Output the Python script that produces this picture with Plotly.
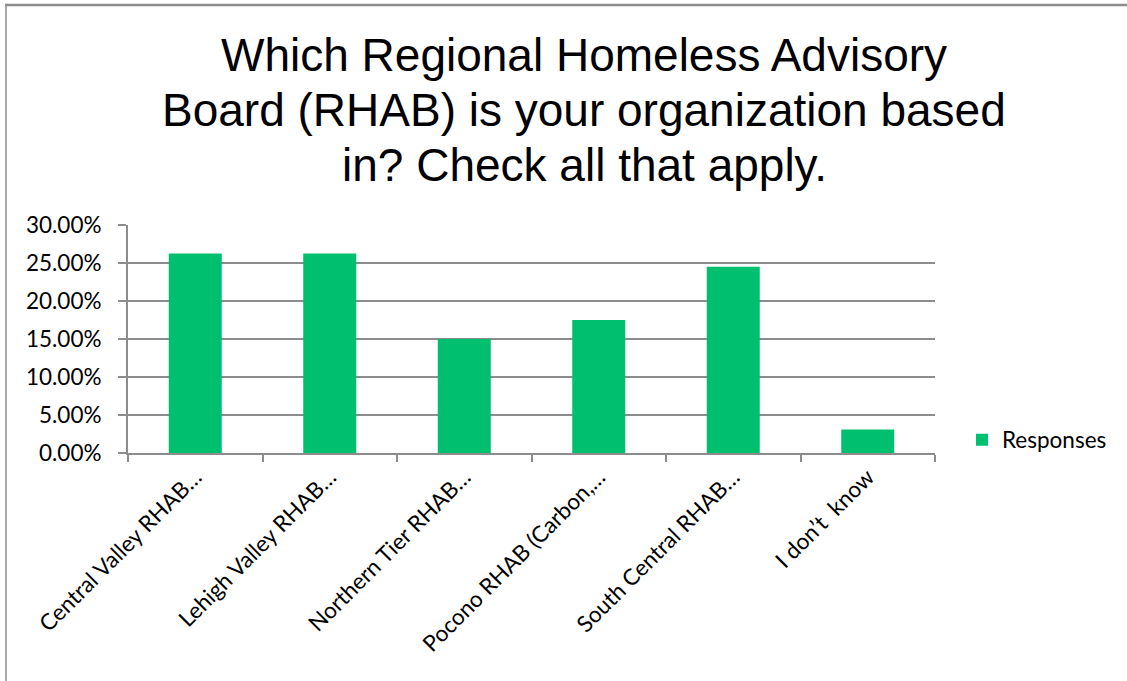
import plotly.graph_objects as go

# Survey answers and the share of respondents choosing each
categories = [
    "Central Valley RHAB…",
    "Lehigh Valley RHAB…",
    "Northern Tier RHAB…",
    "Pocono RHAB (Carbon,…",
    "South Central RHAB…",
    "I don’t  know",
]
responses = [0.2625, 0.2625, 0.15, 0.175, 0.245, 0.031]

y_tick_values = [0.0, 0.05, 0.10, 0.15, 0.20, 0.25, 0.30]
y_tick_labels = ["0.00%", "5.00%", "10.00%", "15.00%", "20.00%", "25.00%", "30.00%"]

title_lines = [
    "Which Regional Homeless Advisory",
    "Board (RHAB) is your organization based",
    "in? Check all that apply.",
]

W, H = 1127, 681
# plot area in pixels
L, R, T, B = 128, 935, 225, 453
GREEN = "#00BF6F"
GRID = "#8C8C8C"
LABEL_FONT = dict(family="Lato, Open Sans, sans-serif", size=22.5, color="#000000")


def px_x(x):
    return (x - L) / (R - L)


def px_y(y):
    return (B - y) / (B - T)


fig = go.Figure()
fig.add_trace(
    go.Bar(
        x=categories,
        y=responses,
        name="Responses",
        marker=dict(color=GREEN, line=dict(width=0)),
        showlegend=True,
    )
)

fig.update_layout(
    width=W,
    height=H,
    margin=dict(l=L, r=W - R, t=T, b=H - B, pad=0),
    paper_bgcolor="white",
    plot_bgcolor="white",
    bargap=0.606,
    showlegend=True,
    legend=dict(
        x=px_x(962),
        y=px_y(440),
        xanchor="left",
        yanchor="middle",
        font=LABEL_FONT,
        bgcolor="rgba(0,0,0,0)",
        itemwidth=30,
    ),
    xaxis=dict(
        type="category",
        tickangle=-45,
        tickfont=LABEL_FONT,
        showgrid=False,
        showline=True,
        linecolor=GRID,
        linewidth=2,
        ticks="outside",
        tickson="boundaries",
        ticklen=7,
        tickwidth=2,
        tickcolor=GRID,
        zeroline=False,
    ),
    yaxis=dict(
        range=[0, 0.30],
        tickvals=y_tick_values,
        ticktext=y_tick_labels,
        tickfont=LABEL_FONT,
        showgrid=True,
        gridcolor=GRID,
        gridwidth=2,
        showline=True,
        linecolor=GRID,
        linewidth=2,
        ticks="outside",
        ticklen=8,
        tickwidth=2,
        tickcolor=GRID,
        zeroline=False,
        ticklabelstandoff=12,
    ),
)

# three-line chart title
title_mid_y = [55, 110, 165]
for text, ym in zip(title_lines, title_mid_y):
    fig.add_annotation(
        text=text,
        xref="paper",
        yref="paper",
        x=px_x(584),
        y=px_y(ym),
        xanchor="center",
        yanchor="middle",
        showarrow=False,
        font=dict(family="Liberation Sans, Arial, sans-serif", size=46, color="#000000"),
    )

# outer frame lines (top and left edges)
fig.add_shape(
    type="line", xref="paper", yref="paper",
    x0=px_x(5), x1=px_x(W), y0=px_y(5), y1=px_y(5),
    line=dict(color="#8C8C8C", width=2.5),
)
fig.add_shape(
    type="line", xref="paper", yref="paper",
    x0=px_x(6), x1=px_x(6), y0=px_y(5), y1=px_y(H),
    line=dict(color="#8C8C8C", width=1.5),
)

fig.write_html("out.html")
